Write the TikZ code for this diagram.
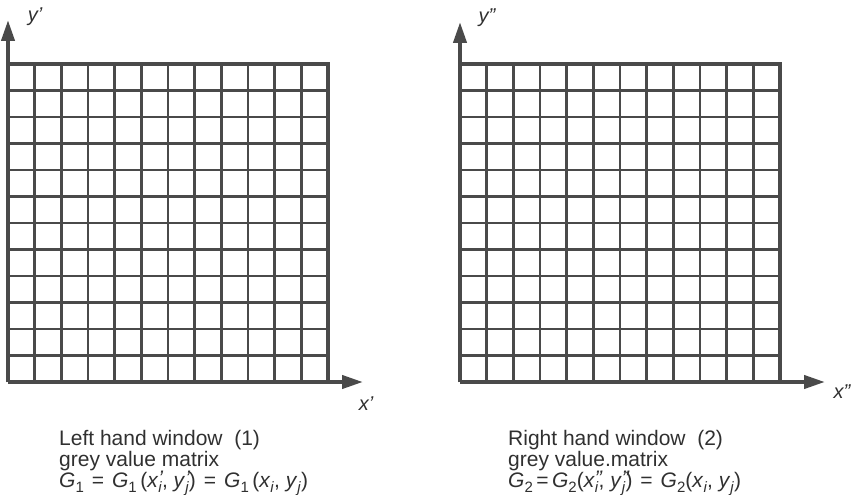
\documentclass[tikz,border=0pt]{standalone}
\usepackage{fontspec}
\setmainfont{Liberation Sans}
\usetikzlibrary{arrows.meta}
\definecolor{ink}{HTML}{4A4A4A}
\definecolor{txt}{HTML}{303030}
\newcommand{\sbi}[1]{\raisebox{-0.28em}{\fontsize{15}{15}\selectfont #1}}
\newcommand{\xp}[3]{\textit{#1}\rlap{\raisebox{0.05em}{\textit{#2}}}\sbi{\textit{#3}}}
\newcommand{\eqs}{\hspace{0.38em}=\hspace{0.38em}}
\begin{document}
\begin{tikzpicture}[x=1pt,y=-1pt,
  inner/.style={ink,line width=2.8pt},
  outer/.style={ink,line width=3.6pt,line join=miter},
  axis/.style={ink,line width=4pt,-{Triangle[length=21pt,width=13pt]}},
  captxt/.style={txt,anchor=base west,inner sep=0pt,font=\fontsize{21}{21}\selectfont},
  lab/.style={txt,inner sep=0pt,font=\fontsize{20}{20}\selectfont\itshape}]
\useasboundingbox (0,0) rectangle (855,495);
% left grid
\foreach \i in {1,...,11} {
  \draw[inner] ({8+\i*320/12},64) -- ({8+\i*320/12},382);
  \draw[inner] (8,{64+\i*318/12}) -- (328,{64+\i*318/12});
}
\draw[outer] (8,382) -- (8,64) -- (328,64) -- (328,382);
\coordinate (lo) at (8,382);
\coordinate (ly) at (8,20);
\coordinate (lx) at (363,382);
\draw[axis] (lo) -- (ly);
\draw[axis] (lo) -- (lx);
% right grid
\foreach \i in {1,...,11} {
  \draw[inner] ({460+\i*320/12},64) -- ({460+\i*320/12},382);
  \draw[inner] (460,{64+\i*318/12}) -- (780,{64+\i*318/12});
}
\draw[outer] (460,382) -- (460,64) -- (780,64) -- (780,382);
\coordinate (ro) at (460,382);
\coordinate (ry) at (460,22);
\coordinate (rx) at (825,382);
\draw[axis] (ro) -- (ry);
\draw[axis] (ro) -- (rx);
% axis labels
\node[lab] (ylab1) at (35,17) {y'};
\node[lab] (xlab1) at (366,404) {x'};
\node[lab] (ylab2) at (487,18) {y''};
\node[lab] (xlab2) at (842,392) {x''};
% captions
\node[captxt] (l1) at (59,445) {Left hand window\ \ (1)};
\node[captxt] (l2) at (59,466) {grey value matrix};
\node[captxt] (l3) at (59,487) {\textit{G}\sbi{1}\eqs\textit{G}\sbi{1}\,(\xp{x}{'}{i}, \xp{y}{'}{j})\eqs\textit{G}\sbi{1}\,(\xp{x}{}{i}, \xp{y}{}{j})};
\node[captxt] (r1) at (508,445) {Right hand window\ \ (2)};
\node[captxt] (r2) at (508,466) {grey value.matrix};
\node[captxt] (r3) at (508,487) {\textit{G}\sbi{2}\,=\,\textit{G}\sbi{2}(\xp{x}{''}{i}, \xp{y}{''}{j})\eqs\textit{G}\sbi{2}(\xp{x}{}{i}, \xp{y}{}{j})};
\end{tikzpicture}
\end{document}
